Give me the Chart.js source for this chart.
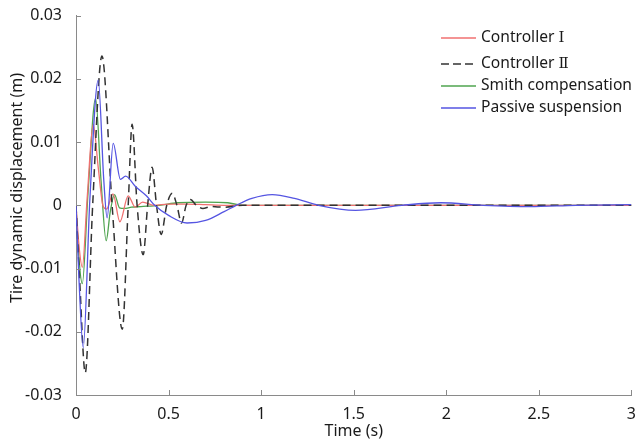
<!DOCTYPE html>
<html>
<head>
<meta charset="utf-8">
<script src="https://cdn.jsdelivr.net/npm/chart.js@4/dist/chart.umd.min.js"></script>
<style>
  html, body { margin: 0; padding: 0; background: #fff; }
  #wrap { width: 638px; height: 441px; }
</style>
</head>
<body>
<div id="wrap"><canvas id="chart" width="638" height="441"></canvas></div>
<script>
// ---- data ----
const seriesNames = ['Controller Ⅰ', 'Controller Ⅱ', 'Smith compensation', 'Passive suspension'];

// Controller I (red)
const ctrl1T = [0, 0.015, 0.034, 0.06, 0.093, 0.12, 0.147, 0.165, 0.2, 0.237, 0.282, 0.32, 0.36, 0.42, 0.5, 0.6, 0.7, 0.8, 0.9, 1.2, 1.5, 2, 2.5, 3];
const ctrl1V = [0, -0.006, -0.0098, 0.001, 0.0128, 0.006, -0.0002, -0.0006, 0.0018, -0.0026, 0.0015, -0.0003, 0.0005, 0, 0.0002, 0.0002, 0.0001, 0, 0, 0, 0, 0, 0, 0];

// Controller II (black dashed)
const ctrl2T = [0, 0.02, 0.05, 0.09, 0.14, 0.195, 0.25, 0.282, 0.303, 0.33, 0.363, 0.387, 0.411, 0.435, 0.46, 0.49, 0.52, 0.545, 0.57, 0.595, 0.618, 0.65, 0.685, 0.73, 0.8, 0.9, 1, 1.5, 2, 2.5, 3];
const ctrl2V = [0, -0.012, -0.0265, 0, 0.0236, 0, -0.0196, 0, 0.0128, 0, -0.0078, 0, 0.006, 0, -0.0046, 0, 0.0019, 0, -0.0028, 0, 0.0009, 0, -0.0005, -0.0002, -0.0003, 0, 0, 0, 0, 0, 0];

// Smith compensation (green)
const smithT = [0, 0.015, 0.034, 0.065, 0.106, 0.135, 0.163, 0.185, 0.208, 0.235, 0.26, 0.3, 0.35, 0.45, 0.55, 0.7, 0.82, 0.9, 1, 1.5, 2, 2.5, 3];
const smithV = [0, -0.008, -0.0124, 0.002, 0.0169, 0.004, -0.0056, -0.001, 0.0017, -0.0004, -0.0005, -0.0003, -0.0002, 0, 0.0004, 0.0005, 0.0004, 0, 0, 0, 0, 0, 0];

// Passive suspension (blue)
const passiveT = [0, 0.015, 0.039, 0.075, 0.12, 0.15, 0.168, 0.201, 0.24, 0.268, 0.32, 0.38, 0.425, 0.5, 0.6, 0.7, 0.8, 0.865, 0.95, 1.06, 1.18, 1.31, 1.51, 1.76, 1.97, 2.2, 2.45, 2.7, 3];
const passiveV = [0, -0.011, -0.0225, 0.001, 0.0198, 0.004, -0.002, 0.0098, 0.0041, 0.0046, 0.003, 0.0015, 0, -0.0016, -0.0028, -0.0024, -0.001, 0, 0.0011, 0.0017, 0.0011, 0, -0.0008, 0, 0.0004, 0, -0.0002, 0, 0.0001];

const xTicks = [0, 0.5, 1, 1.5, 2, 2.5, 3];
const xTickLabels = ['0', '0.5', '1', '1.5', '2', '2.5', '3'];
const yTicks = [-0.03, -0.02, -0.01, 0, 0.01, 0.02, 0.03];
const yTickLabels = ['-0.03', '-0.02', '-0.01', '0', '0.01', '0.02', '0.03'];
const yTitle = 'Tire dynamic displacement (m)';

const FONT = '"Noto Sans", "Open Sans", sans-serif';
const NUM_FONT = '"DejaVu Serif", "Liberation Serif", serif';
const TEXT = '#1a1a1a';
const AXIS = '#8a8a8a';

const pts = (ts, vs) => ts.map((t, i) => ({ x: t, y: vs[i] }));

// inward tick marks + y title (drawn a bit above centre, as in the figure)
const axisExtras = {
  id: 'axisExtras',
  afterDraw(chart) {
    const { ctx, chartArea: a, scales: { x, y } } = chart;
    ctx.save();
    ctx.strokeStyle = AXIS;
    ctx.lineWidth = 1;
    ctx.beginPath();
    xTicks.forEach(v => {
      const px = Math.round(x.getPixelForValue(v)) + 0.5;
      ctx.moveTo(px, a.bottom); ctx.lineTo(px, a.bottom - 5);
    });
    yTicks.forEach(v => {
      const py = Math.round(y.getPixelForValue(v)) + 0.5;
      ctx.moveTo(a.left, py); ctx.lineTo(a.left + 5, py);
    });
    ctx.stroke();

    ctx.translate(17, 188);
    ctx.rotate(-Math.PI / 2);
    ctx.font = '16px ' + FONT;
    ctx.fillStyle = TEXT;
    ctx.textAlign = 'center';
    ctx.textBaseline = 'middle';
    ctx.fillText(yTitle, 0, 0);
    ctx.restore();
  }
};

// legend drawn inside the plot, top right; roman numeral in a serif glyph
const boxLegend = {
  id: 'boxLegend',
  afterDraw(chart) {
    const { ctx } = chart;
    ctx.save();
    ctx.textBaseline = 'middle';
    chart.data.datasets.forEach((ds, i) => {
      const yy = [38, 64, 86, 108][i];
      ctx.strokeStyle = ds.borderColor;
      ctx.lineWidth = 1.3;
      ctx.setLineDash(ds.borderDash ? [8, 4] : []);
      ctx.beginPath();
      ctx.moveTo(441, yy); ctx.lineTo(476, yy);
      ctx.stroke();
      ctx.setLineDash([]);
      ctx.fillStyle = TEXT;
      const m = ds.label.match(/^(.*?)([ⅠⅡ])$/);
      ctx.font = '15.6px ' + FONT;
      if (m) {
        ctx.fillText(m[1], 481, yy);
        const w = ctx.measureText(m[1]).width;
        ctx.font = '15px ' + NUM_FONT;
        ctx.fillText(m[2], 481 + w, yy);
      } else {
        ctx.fillText(ds.label, 481, yy);
      }
    });
    ctx.restore();
  }
};

new Chart(document.getElementById('chart'), {
  type: 'line',
  data: {
    datasets: [
      { label: seriesNames[0], data: pts(ctrl1T, ctrl1V), borderColor: '#f07070', borderWidth: 1.3, order: 2 },
      { label: seriesNames[1], data: pts(ctrl2T, ctrl2V), borderColor: '#333333', borderWidth: 1.5, borderDash: [8, 5], order: 1 },
      { label: seriesNames[2], data: pts(smithT, smithV), borderColor: '#4fa44f', borderWidth: 1.3, order: 3 },
      { label: seriesNames[3], data: pts(passiveT, passiveV), borderColor: '#5555e2', borderWidth: 1.3, order: 0 },
    ],
  },
  options: {
    responsive: false,
    animation: false,
    layout: { padding: { left: 0, right: 1, top: 14, bottom: 0 } },
    elements: {
      point: { radius: 0 },
      line: { cubicInterpolationMode: 'monotone', fill: false },
    },
    plugins: { legend: { display: false }, tooltip: { enabled: false } },
    scales: {
      x: {
        type: 'linear', min: 0, max: 3,
        afterBuildTicks: s => { s.ticks = xTicks.map(v => ({ value: v })); },
        afterFit: s => { s.height = 46; },
        ticks: {
          callback: (v, i) => xTickLabels[i],
          color: TEXT, font: { family: FONT, size: 16 }, padding: 2, maxRotation: 0,
        },
        grid: { display: false },
        border: { display: true, color: AXIS },
        title: { display: true, text: 'Time (s)', color: TEXT, font: { family: FONT, size: 16 }, padding: { top: 0, bottom: 0 } },
      },
      y: {
        type: 'linear', min: -0.03, max: 0.03,
        afterBuildTicks: s => { s.ticks = yTicks.map(v => ({ value: v })); },
        afterFit: s => { s.width = 76; },
        ticks: {
          callback: (v, i) => yTickLabels[i],
          color: TEXT, font: { family: FONT, size: 16 }, padding: 6,
        },
        grid: { display: false },
        border: { display: true, color: AXIS },
        title: { display: false },
      },
    },
  },
  plugins: [axisExtras, boxLegend],
});
</script>
</body>
</html>
